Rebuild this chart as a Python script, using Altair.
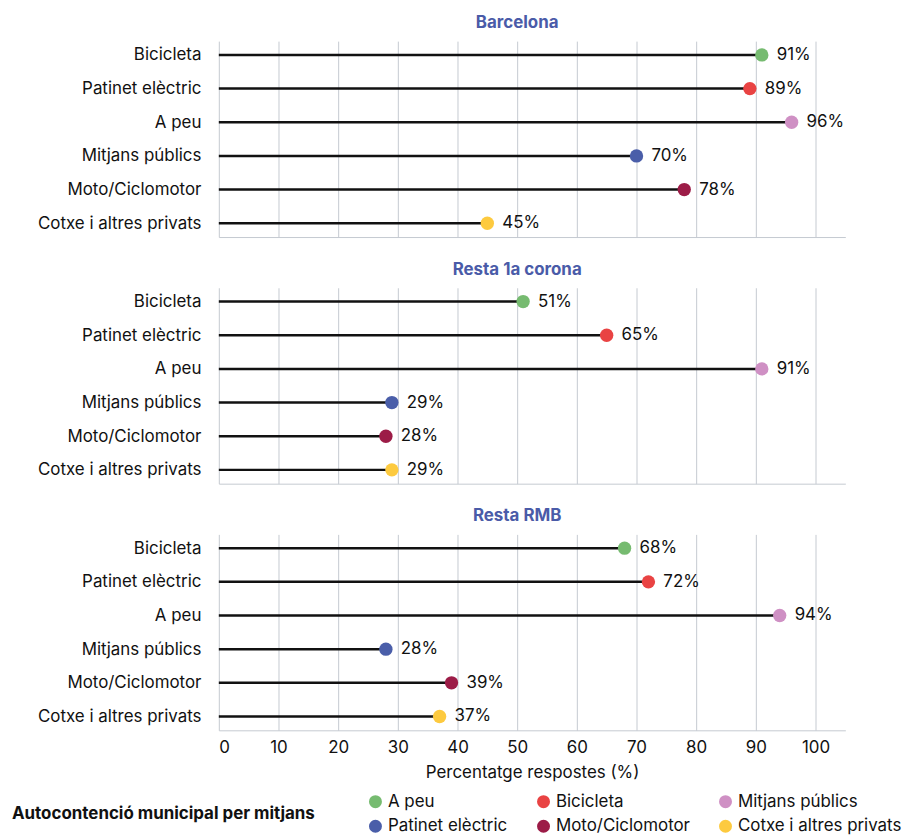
import altair as alt
import pandas as pd

regions = ["Barcelona", "Resta 1a corona", "Resta RMB"]
modes = ["Bicicleta", "Patinet elèctric", "A peu", "Mitjans públics",
         "Moto/Ciclomotor", "Cotxe i altres privats"]
# legend label attached to each row (as shown in the original figure)
legend_labels = ["A peu", "Bicicleta", "Mitjans públics", "Patinet elèctric",
                 "Moto/Ciclomotor", "Cotxe i altres privats"]
colors = ["#76bb70", "#e94343", "#cf90c4", "#4a5ea9", "#9c1c47", "#fdca3f"]

barcelona = [91, 89, 96, 70, 78, 45]
corona = [51, 65, 91, 29, 28, 29]
rmb = [68, 72, 94, 28, 39, 37]
values = {"Barcelona": barcelona, "Resta 1a corona": corona, "Resta RMB": rmb}

rows = []
for r in regions:
    for m, lg, v in zip(modes, legend_labels, values[r]):
        rows.append({"region": r, "mode": m, "leg": lg, "value": v,
                     "zero": 0, "label": f"{v}%"})
df = pd.DataFrame(rows)

FONT = "Inter"
GRID = "#c5cad1"
FS = 17


def panel(region, last):
    if last:
        xaxis = alt.Axis(values=list(range(0, 101, 10)), title="Percentatge respostes (%)",
                         grid=True, gridColor=GRID, domainColor=GRID, ticks=False,
                         labelFontSize=FS, titleFontSize=FS, titleFontWeight="normal",
                         labelPadding=9, titlePadding=9, labelColor="#111", titleColor="#111")
    else:
        xaxis = alt.Axis(values=list(range(0, 101, 10)), title=None, labels=False,
                         grid=True, gridColor=GRID, domainColor=GRID, ticks=False)
    xsc = alt.Scale(domain=[0, 105], nice=False)
    base = alt.Chart(df).transform_filter(alt.datum.region == region).encode(
        y=alt.Y("mode:N", sort=modes, scale=alt.Scale(type="point", padding=0.41),
                axis=alt.Axis(title=None, domain=False, ticks=False, labelFontSize=FS,
                              labelPadding=18, labelColor="#111"))
    )
    rule = base.mark_rule(color="#111", strokeWidth=2.5).encode(
        x=alt.X("zero:Q", scale=xsc, axis=xaxis), x2="value:Q")
    pts = base.mark_circle(size=180, opacity=1).encode(
        x=alt.X("value:Q", scale=xsc, axis=xaxis),
        color=alt.Color("leg:N", scale=alt.Scale(domain=legend_labels, range=colors),
                        legend=alt.Legend(title="Autocontenció municipal per mitjans",
                                          direction="horizontal")))
    txt = base.mark_text(align="left", dx=15, fontSize=FS, color="#111", font=FONT).encode(
        x=alt.X("value:Q", scale=xsc, axis=xaxis), text="label:N")
    return alt.layer(rule, pts, txt).properties(
        width=630, height=197,
        title=alt.TitleParams(region, color="#4a5ba8", fontSize=FS, fontWeight="bold",
                              anchor="middle", dx=-15, offset=9, font=FONT))


chart = alt.vconcat(*[panel(r, i == 2) for i, r in enumerate(regions)], spacing=24).resolve_scale(
    color="shared"
).properties(padding={"left": 4, "top": 4, "right": 5, "bottom": 5}).configure(font=FONT).configure_view(
    stroke=None
).configure_legend(
    orient="none", legendX=-208, legendY=756, columns=3, titleOrient="left",
    titleFontSize=FS, titleFontWeight="bold", titleLimit=500, titleAnchor="middle",
    titleColor="#111", labelFontSize=FS, labelColor="#111", labelLimit=300,
    symbolSize=170, symbolType="circle",
    columnPadding=27, rowPadding=7, titlePadding=52, symbolStrokeWidth=0
)

chart.save("out.html", embed_options={"renderer": "svg", "actions": False})
